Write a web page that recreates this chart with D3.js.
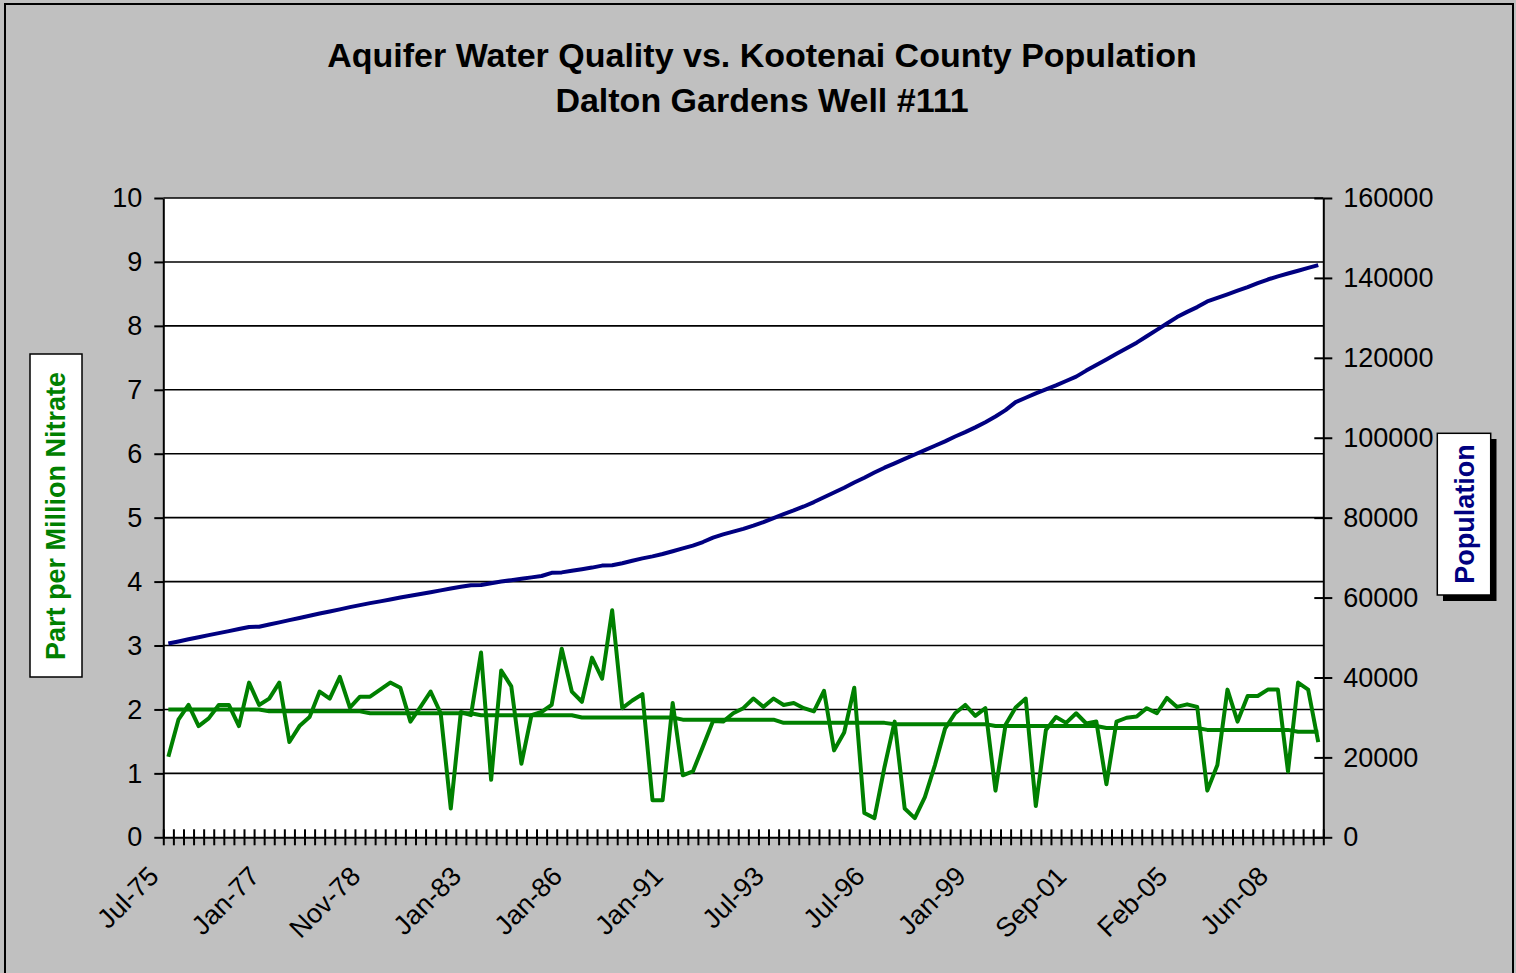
<!DOCTYPE html>
<meta charset="utf-8">
<head>
    <style>
     html, body { margin: 0; padding: 0; background: #c0c0c0; }
     svg { display: block; font-family: Arial, "Liberation Sans", sans-serif; }
    </style>
</head>
<title>Aquifer Water Quality vs. Kootenai County Population</title>
<body>
</body>
<script src="https://d3js.org/d3.v7.min.js"></script>
<script>
 // x axis labels, one every 10 samples
 const tickLabels = ["Jul-75", "Jan-77", "Nov-78", "Jan-83", "Jan-86", "Jan-91",
                     "Jul-93", "Jul-96", "Jan-99", "Sep-01", "Feb-05", "Jun-08"];
 const labelEvery = 10;

 // nitrate, parts per million (left axis)
 const nitrate = [
     1.26, 1.84, 2.07, 1.74, 1.86, 2.07, 2.07, 1.74, 2.42, 2.07,
     2.17, 2.42, 1.49, 1.74, 1.88, 2.28, 2.17, 2.51, 2.03, 2.20,
     2.20, 2.31, 2.42, 2.34, 1.81, 2.04, 2.28, 1.94, 0.45, 1.96,
     1.91, 2.89, 0.90, 2.61, 2.36, 1.15, 1.91, 1.96, 2.07, 2.95,
     2.28, 2.12, 2.81, 2.48, 3.55, 2.02, 2.14, 2.24, 0.58, 0.58,
     2.10, 0.97, 1.03, 1.42, 1.82, 1.81, 1.94, 2.02, 2.17, 2.04,
     2.17, 2.07, 2.10, 2.02, 1.97, 2.29, 1.36, 1.64, 2.34, 0.38,
     0.30, 1.10, 1.81, 0.45, 0.30, 0.63, 1.13, 1.70, 1.94, 2.07,
     1.90, 2.02, 0.73, 1.76, 2.03, 2.17, 0.49, 1.68, 1.88, 1.79,
     1.94, 1.78, 1.81, 0.83, 1.81, 1.87, 1.89, 2.02, 1.94, 2.18,
     2.04, 2.08, 2.04, 0.73, 1.13, 2.31, 1.81, 2.21, 2.21, 2.31,
     2.31, 1.03, 2.42, 2.31, 1.49
 ];

 // slowly stepping second nitrate series (left axis)
 const nitrateLevel = [
     2.00, 2.00, 2.00, 2.00, 2.00, 2.00, 2.00, 2.00, 2.00, 2.00,
     1.97, 1.97, 1.97, 1.97, 1.97, 1.97, 1.97, 1.97, 1.97, 1.97,
     1.94, 1.94, 1.94, 1.94, 1.94, 1.94, 1.94, 1.94, 1.94, 1.94,
     1.94, 1.91, 1.91, 1.91, 1.91, 1.91, 1.91, 1.91, 1.91, 1.91,
     1.91, 1.875, 1.875, 1.875, 1.875, 1.875, 1.875, 1.875, 1.875, 1.875,
     1.875, 1.84, 1.84, 1.84, 1.84, 1.84, 1.84, 1.84, 1.84, 1.84,
     1.84, 1.79, 1.79, 1.79, 1.79, 1.79, 1.79, 1.79, 1.79, 1.79,
     1.79, 1.79, 1.77, 1.77, 1.77, 1.77, 1.77, 1.77, 1.77, 1.77,
     1.77, 1.77, 1.74, 1.74, 1.74, 1.74, 1.74, 1.74, 1.74, 1.74,
     1.74, 1.74, 1.74, 1.71, 1.71, 1.71, 1.71, 1.71, 1.71, 1.71,
     1.71, 1.71, 1.71, 1.68, 1.68, 1.68, 1.68, 1.68, 1.68, 1.68,
     1.68, 1.68, 1.65, 1.65, 1.65
 ];

 // Kootenai County population (right axis)
 const population = [
     48500, 49000, 49550, 50050, 50600, 51100, 51600, 52150, 52650, 52700,
     53250, 53800, 54350, 54900, 55450, 56000, 56500, 57050, 57600, 58100,
     58600, 59050, 59500, 60000, 60450, 60900, 61350, 61800, 62250, 62700,
     63100, 63150, 63600, 64000, 64350, 64700, 65050, 65400, 66200, 66300,
     66700, 67100, 67500, 68000, 68100, 68600, 69200, 69800, 70300, 70900,
     71600, 72300, 73000, 73900, 75000, 75800, 76500, 77200, 78000, 78900,
     79900, 80900, 81800, 82800, 83900, 85100, 86300, 87500, 88800, 90000,
     91300, 92500, 93600, 94700, 95800, 96900, 98000, 99100, 100300, 101400,
     102600, 103900, 105300, 106900, 108900, 110000, 111100, 112100, 113100, 114200,
     115300, 116800, 118200, 119600, 121000, 122400, 123800, 125400, 127000, 128600,
     130200, 131500, 132700, 134100, 135000, 135900, 136800, 137700, 138700, 139600,
     140400, 141100, 141800, 142500, 143200
 ];

 const width = 1516, height = 973;
 const plot = {left: 163.3, right: 1323.3, top: 198, bottom: 837.3};
 const n = nitrate.length;

 const svg = d3.select("body").append("svg")
               .attr("width", width)
               .attr("height", height);

 // outer chart frame
 svg.append("rect")
    .attr("x", 5).attr("y", 4)
    .attr("width", 1508).attr("height", 990)
    .attr("fill", "#c0c0c0")
    .attr("stroke", "#000")
    .attr("stroke-width", 2);

 // title
 const title = svg.append("g")
                  .attr("font-weight", "bold")
                  .attr("font-size", 34)
                  .attr("text-anchor", "middle");
 title.append("text").attr("x", 762).attr("y", 67)
      .text("Aquifer Water Quality vs. Kootenai County Population");
 title.append("text").attr("x", 762).attr("y", 112)
      .text("Dalton Gardens Well #111");

 // scales
 const x = d3.scaleBand().domain(d3.range(n)).range([plot.left, plot.right]);
 const xEdge = d3.scaleLinear().domain([0, n]).range([plot.left, plot.right]);
 const yLeft = d3.scaleLinear().domain([0, 10]).range([plot.bottom, plot.top]);
 const yRight = d3.scaleLinear().domain([0, 160000]).range([plot.bottom, plot.top]);
 const cx = i => x(i) + x.bandwidth() / 2;

 // plot area
 svg.append("rect")
    .attr("x", plot.left).attr("y", plot.top)
    .attr("width", plot.right - plot.left)
    .attr("height", plot.bottom - plot.top)
    .attr("fill", "#fff");

 // gridlines
 svg.append("g")
    .selectAll("line")
    .data(d3.range(1, 11))
    .join("line")
    .attr("x1", plot.left).attr("x2", plot.right)
    .attr("y1", d => yLeft(d)).attr("y2", d => yLeft(d))
    .attr("stroke", "#000")
    .attr("stroke-width", 1.6);

 function styleAxis(g) {
     g.select(".domain").attr("stroke", "#000").attr("stroke-width", 2);
     g.selectAll(".tick line").attr("stroke", "#000").attr("stroke-width", 2);
     g.selectAll(".tick text").attr("fill", "#000").attr("font-size", 27)
      .attr("font-family", "Arial, 'Liberation Sans', sans-serif");
 }

 // left axis
 svg.append("g")
    .attr("transform", `translate(${plot.left},0)`)
    .call(d3.axisLeft(yLeft).tickValues(d3.range(0, 11)).tickSizeInner(9).tickSizeOuter(0).tickPadding(12))
    .call(styleAxis);

 // right axis, ticks crossing the line
 const rightAxis = svg.append("g")
                      .attr("transform", `translate(${plot.right},0)`)
                      .call(d3.axisRight(yRight).tickValues(d3.range(0, 160001, 20000)).tickFormat(d3.format("d"))
                              .tickSizeInner(9).tickSizeOuter(0).tickPadding(11))
                      .call(styleAxis);
 rightAxis.selectAll(".tick").append("line")
          .attr("x1", -9).attr("x2", 0)
          .attr("stroke", "#000").attr("stroke-width", 2);

 // bottom axis: tick marks between categories, crossing the axis
 const bottomAxis = svg.append("g")
                       .attr("transform", `translate(0,${plot.bottom})`)
                       .call(d3.axisBottom(xEdge).tickValues(d3.range(0, n + 1)).tickFormat("").tickSizeInner(8).tickSizeOuter(0))
                       .call(styleAxis);
 bottomAxis.selectAll(".tick").append("line")
           .attr("y1", -8).attr("y2", 0)
           .attr("stroke", "#000").attr("stroke-width", 2);

 // category labels
 svg.append("g")
    .attr("font-size", 27)
    .attr("text-anchor", "end")
    .selectAll("text")
    .data(tickLabels)
    .join("text")
    .attr("transform", (d, k) => `translate(${cx(k * labelEvery) - 8},878) rotate(-45)`)
    .text(d => d);

 // series
 const lineLeft = d3.line().x((d, i) => cx(i)).y(d => yLeft(d));
 const lineRight = d3.line().x((d, i) => cx(i)).y(d => yRight(d));

 svg.append("path")
    .datum(population)
    .attr("d", lineRight)
    .attr("fill", "none")
    .attr("stroke", "#000080")
    .attr("stroke-width", 4)
    .attr("stroke-linejoin", "round");

 svg.append("path")
    .datum(nitrateLevel)
    .attr("d", lineLeft)
    .attr("fill", "none")
    .attr("stroke", "#008000")
    .attr("stroke-width", 4)
    .attr("stroke-linejoin", "round");

 svg.append("path")
    .datum(nitrate)
    .attr("d", lineLeft)
    .attr("fill", "none")
    .attr("stroke", "#008000")
    .attr("stroke-width", 4)
    .attr("stroke-linejoin", "round");

 // axis titles in boxes
 svg.append("rect")
    .attr("x", 30).attr("y", 354)
    .attr("width", 52).attr("height", 323)
    .attr("fill", "#fff").attr("stroke", "#000").attr("stroke-width", 1.5);
 svg.append("text")
    .attr("transform", "translate(65,516) rotate(-90)")
    .attr("text-anchor", "middle")
    .attr("font-size", 27).attr("font-weight", "bold")
    .attr("fill", "#008000")
    .text("Part per Million Nitrate");

 svg.append("rect")
    .attr("x", 1443).attr("y", 439)
    .attr("width", 53.5).attr("height", 162)
    .attr("fill", "#000");
 svg.append("rect")
    .attr("x", 1437.3).attr("y", 433.3)
    .attr("width", 53.4).attr("height", 161.7)
    .attr("fill", "#fff").attr("stroke", "#000").attr("stroke-width", 1.5);
 svg.append("text")
    .attr("transform", "translate(1474,514) rotate(-90)")
    .attr("text-anchor", "middle")
    .attr("font-size", 27).attr("font-weight", "bold")
    .attr("fill", "#000080")
    .text("Population");
</script>
